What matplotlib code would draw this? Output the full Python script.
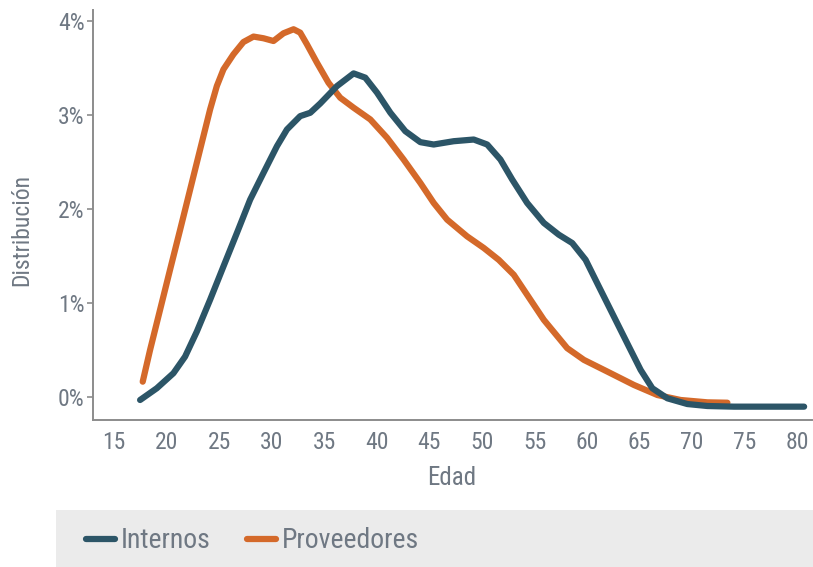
import matplotlib
matplotlib.use("Agg")
import matplotlib.pyplot as plt
from matplotlib import font_manager as fm
from matplotlib.patches import Rectangle
from matplotlib.ticker import FixedLocator, FuncFormatter


def narrow_font():
    """Pick a condensed sans family if one is installed."""
    entries = fm.fontManager.ttflist
    names = {e.name for e in entries}
    for n in ("Liberation Sans Narrow", "Roboto Condensed", "Open Sans Condensed",
              "DejaVu Sans Condensed"):
        if n in names:
            return n, "normal"
    for n in ("Roboto", "Open Sans", "Noto Sans", "DejaVu Sans"):
        if any(e.name == n and e.stretch in ("condensed", "semi-condensed",
                                             "extra-condensed") for e in entries):
            return n, "condensed"
    return "DejaVu Sans", "condensed"


FAMILY, STRETCH = narrow_font()
plt.rcParams["font.family"] = [FAMILY, "DejaVu Sans"]
plt.rcParams["font.stretch"] = STRETCH

# Age distribution (% of people at each age)
internos_edad = [17.48, 19.07, 20.65, 21.76, 22.88, 24.14, 25.41, 26.69, 27.95,
                 29.22, 30.5, 31.45, 32.71, 33.67, 34.62, 36.21, 37.79, 38.9,
                 40.02, 41.29, 42.71, 44.14, 45.41, 47.31, 49.22, 50.5, 51.76,
                 52.88, 54.3, 55.89, 57.31, 58.59, 59.86, 61.12, 62.55, 63.98,
                 65.1, 66.21, 67.64, 69.54, 71.45, 73.98, 80.65]
internos_pct = [-0.032, 0.093, 0.253, 0.43, 0.697, 1.035, 1.39, 1.746, 2.101,
                2.386, 2.67, 2.848, 2.99, 3.026, 3.125, 3.31, 3.445, 3.40,
                3.24, 3.026, 2.83, 2.713, 2.688, 2.723, 2.741, 2.688, 2.528,
                2.315, 2.066, 1.853, 1.728, 1.639, 1.461, 1.177, 0.857, 0.537,
                0.288, 0.093, -0.014, -0.075, -0.096, -0.103, -0.103]

proveedores_edad = [17.73, 18.43, 19.38, 20.33, 21.29, 22.24, 23.19, 24.14, 24.78,
                    25.41, 26.36, 27.31, 28.27, 29.22, 30.17, 31.12, 32.08, 32.71,
                    33.35, 34.3, 35.4, 36.52, 37.79, 39.38, 40.97, 42.55, 44.14,
                    45.41, 46.69, 48.59, 50.17, 51.6, 53.03, 54.3, 55.89, 58.11,
                    59.7, 61.92, 64.46, 66.69, 68.9, 71.45, 73.35]
proveedores_pct = [0.163, 0.501, 0.928, 1.355, 1.781, 2.208, 2.635, 3.061, 3.31,
                   3.488, 3.648, 3.779, 3.837, 3.819, 3.79, 3.872, 3.915, 3.879,
                   3.755, 3.56, 3.346, 3.186, 3.08, 2.955, 2.76, 2.528, 2.279,
                   2.066, 1.888, 1.71, 1.587, 1.46, 1.301, 1.088, 0.821, 0.52,
                   0.395, 0.271, 0.128, 0.021, -0.032, -0.057, -0.061]

x_ticks = list(range(15, 81, 5))
y_ticks = [0, 1, 2, 3, 4]

COL_INT = "#2c5567"
COL_PROV = "#d4692a"
TXT = "#6f7883"
AXC = "#8c8c8c"

fig = plt.figure(figsize=(8.13, 5.67), dpi=100)
ax = fig.add_axes([93 / 813, 1 - 420 / 567, (812 - 93) / 813, 410 / 567])

lp, = ax.plot(proveedores_edad, proveedores_pct, color=COL_PROV, lw=4.5,
              solid_capstyle="round", solid_joinstyle="round", label="Proveedores")
li, = ax.plot(internos_edad, internos_pct, color=COL_INT, lw=4.5,
              solid_capstyle="round", solid_joinstyle="round", label="Internos")

ax.set_xlim(13.0, 81.4)
ax.set_ylim(-0.245, 4.12)
ax.xaxis.set_major_locator(FixedLocator(x_ticks))
ax.yaxis.set_major_locator(FixedLocator(y_ticks))
ax.yaxis.set_major_formatter(FuncFormatter(lambda v, p: f"{v:.0f}%"))

for s in ("top", "right"):
    ax.spines[s].set_visible(False)
for s in ("left", "bottom"):
    ax.spines[s].set_color(AXC)
    ax.spines[s].set_linewidth(1.4)

ax.tick_params(axis="x", length=0, pad=8, labelsize=17, labelcolor=TXT)
ax.tick_params(axis="y", length=4, width=1.2, color=AXC, pad=2,
               labelsize=17, labelcolor=TXT)

fig.text(452 / 813, 1 - 485 / 567, "Edad", ha="center", va="baseline",
         fontsize=18, color=TXT)
fig.text(22 / 813, 1 - 230 / 567, "Distribución", ha="center", va="center",
         rotation=90, fontsize=17, color=TXT)

# Legend band
fig.patches.append(Rectangle((56 / 813, 0), 1 - 56 / 813, 57 / 567,
                             transform=fig.transFigure, facecolor="#ebebeb",
                             edgecolor="none", zorder=0))
leg = fig.legend(handles=[li, lp], labels=["Internos", "Proveedores"],
                 loc="center left", bbox_to_anchor=(86 / 813, 1 - 541 / 567),
                 ncol=2, frameon=False, fontsize=20, labelcolor=TXT,
                 handlelength=1.05, handletextpad=0.2, columnspacing=1.3,
                 borderpad=0, borderaxespad=0)

fig.savefig("out.png", dpi=100)
